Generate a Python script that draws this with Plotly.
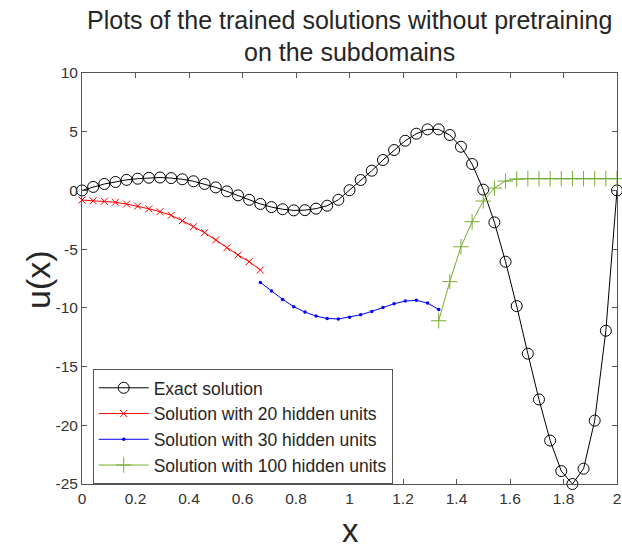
import plotly.graph_objects as go

# x grids (step 1/24)
x_exact = [k / 24 for k in range(49)]
x_20 = [k / 24 for k in range(17)]
x_30 = [(16 + k) / 24 for k in range(17)]
x_100 = [(32 + k) / 24 for k in range(17)]

u_exact = [0.0, 0.3, 0.55, 0.72, 0.9, 1.0, 1.08, 1.1, 1.05, 0.95, 0.78, 0.55, 0.26, -0.08, -0.42,
           -0.8, -1.15, -1.42, -1.6, -1.7, -1.68, -1.55, -1.3, -0.8, 0.02, 0.89, 1.68, 2.59, 3.44,
           4.23, 4.83, 5.2, 5.2, 4.72, 3.72, 2.25, 0.07, -2.72, -6.07, -9.85, -13.9, -17.8, -21.3,
           -23.9, -25.0, -23.7, -19.6, -11.95, 0.0]
u_20 = [-0.82, -0.88, -0.93, -1.01, -1.16, -1.33, -1.56, -1.81, -2.12, -2.58, -3.09, -3.6, -4.22,
        -4.88, -5.5, -6.07, -6.78]
u_30 = [-7.83, -8.57, -9.28, -9.9, -10.36, -10.7, -10.9, -10.95, -10.8, -10.59, -10.3, -9.96, -9.65,
        -9.42, -9.36, -9.59, -10.13]
u_100 = [-11.1, -7.77, -4.8, -2.66, -0.9, 0.2, 0.8, 0.97, 1.0, 1.0, 1.0, 1.0, 1.0, 1.0, 1.0, 1.0, 1.0]

x_ticks = [0, 0.2, 0.4, 0.6, 0.8, 1, 1.2, 1.4, 1.6, 1.8, 2]
x_tick_labels = ["0", "0.2", "0.4", "0.6", "0.8", "1", "1.2", "1.4", "1.6", "1.8", "2"]
y_ticks = [10, 5, 0, -5, -10, -15, -20, -25]
y_tick_labels = ["10", "5", "0", "-5", "-10", "-15", "-20", "-25"]

names = ["Exact solution", "Solution with 20 hidden units", "Solution with 30 hidden units",
         "Solution with 100 hidden units"]

FONT = "Liberation Sans, Arial, Helvetica, sans-serif"

fig = go.Figure()
fig.add_trace(go.Scatter(x=x_exact, y=u_exact, mode="lines+markers", name=names[0], cliponaxis=False,
                         line=dict(color="black", width=1),
                         marker=dict(symbol="circle-open", size=11, color="black", line=dict(width=1))))
fig.add_trace(go.Scatter(x=x_20, y=u_20, mode="lines+markers", name=names[1], cliponaxis=False,
                         line=dict(color="#FF0000", width=1),
                         marker=dict(symbol="x-thin-open", size=7, color="#FF0000", line=dict(width=1))))
fig.add_trace(go.Scatter(x=x_30, y=u_30, mode="lines+markers", name=names[2], cliponaxis=False,
                         line=dict(color="#0000FF", width=1),
                         marker=dict(symbol="circle", size=3.5, color="#0000FF")))
fig.add_trace(go.Scatter(x=x_100, y=u_100, mode="lines+markers", name=names[3], cliponaxis=False,
                         line=dict(color="#77AC30", width=1),
                         marker=dict(symbol="cross-thin-open", size=11, color="#77AC30", line=dict(width=1))))

axis_common = dict(showline=True, linecolor="#555555", linewidth=1, mirror="ticks",
                   ticks="inside", ticklen=5, tickcolor="#555555", showgrid=False, zeroline=False,
                   ticklabeloverflow="allow", automargin=False,
                   tickfont=dict(family=FONT, size=15.5, color="#333333"))

fig.update_layout(
    width=622, height=549,
    margin=dict(l=82, r=5, t=73, b=65),
    paper_bgcolor="white", plot_bgcolor="white",
    font=dict(family=FONT, color="#262626"),
    xaxis=dict(range=[0, 2], tickvals=x_ticks, ticktext=x_tick_labels, **axis_common),
    yaxis=dict(range=[-25, 10], tickvals=y_ticks, ticktext=y_tick_labels, **axis_common),
    legend=dict(x=0.02, y=0.28, xanchor="left", yanchor="top",
                bgcolor="white", bordercolor="#555555", borderwidth=1,
                font=dict(family=FONT, size=17.5, color="#262626"),
                tracegroupgap=0, itemwidth=50),
    showlegend=True,
    annotations=[
        dict(text="Plots of the trained solutions without pretraining", xref="paper", yref="paper",
             x=0.5, y=(484 - 20) / 411, xanchor="center", yanchor="middle", showarrow=False,
             font=dict(family=FONT, size=25, color="#262626")),
        dict(text="on the subdomains", xref="paper", yref="paper",
             x=0.5, y=(484 - 52) / 411, xanchor="center", yanchor="middle", showarrow=False,
             font=dict(family=FONT, size=25, color="#262626")),
        dict(text="x", xref="paper", yref="paper",
             x=(350 - 82) / 535, y=(484 - 530) / 411, xanchor="center", yanchor="middle",
             showarrow=False, font=dict(family=FONT, size=33, color="#262626")),
        dict(text="u(x)", xref="paper", yref="paper", textangle=-90,
             x=(38 - 82) / 535, y=(484 - 280) / 411, xanchor="center", yanchor="middle",
             showarrow=False, font=dict(family=FONT, size=34, color="#262626")),
    ],
)

fig.write_html("out.html")
